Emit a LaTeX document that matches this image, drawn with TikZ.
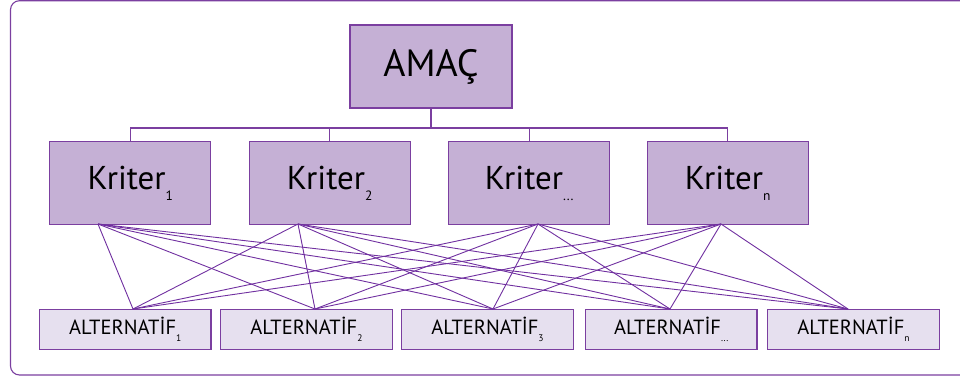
\documentclass[tikz,border=0pt]{standalone}
\usepackage{fontspec}
\setmainfont{PT Sans}
\definecolor{boxfill}{HTML}{C5B0D5}
\definecolor{altfill}{HTML}{E6E0EF}
\definecolor{edge}{HTML}{7B3FA0}
\definecolor{wire}{HTML}{7030A0}
\newcommand\lowsub[3]{\raisebox{-#2}{\fontsize{#1}{#1}\selectfont #3}}
\begin{document}
\begin{tikzpicture}[x=1pt,y=-1pt,
  topbox/.style={draw=edge,line width=1.2pt,fill=boxfill,rectangle,minimum width=162pt,minimum height=83pt,inner sep=0pt,font=\fontsize{38}{40}\selectfont},
  critbox/.style={draw=edge,line width=1.2pt,fill=boxfill,rectangle,minimum width=161pt,minimum height=82.5pt,inner sep=0pt,font=\fontsize{33}{36}\selectfont},
  altbox/.style={draw=edge,line width=1.1pt,fill=altfill,rectangle,minimum width=171.5pt,minimum height=39.7pt,inner sep=0pt,font=\fontsize{20.5}{22}\selectfont},
  wireline/.style={draw=wire,line width=0.9pt},
  treeline/.style={draw=edge,line width=1.1pt}]
\useasboundingbox (0,0) rectangle (960,378);
\clip (0,0) rectangle (960,378);
\draw[edge,line width=1.1pt,rounded corners=9pt] (1000,0.7) -- (10.5,0.7) -- (10.5,375) -- (1000,375);
% nodes
\node[topbox] (amac) at (431,66.5) {AMAÇ};
\node[critbox] (k1) at (130.3,183) {Kriter\lowsub{13.5}{11pt}{1}};
\node[critbox] (k2) at (329.7,183) {Kriter\lowsub{13.5}{11pt}{2}};
\node[critbox] (k3) at (529.2,183) {Kriter\lowsub{13.5}{11pt}{...}};
\node[critbox] (k4) at (727.7,183) {Kriter\lowsub{13.5}{11pt}{n}};
\node[altbox] (a1) at (125.2,329.2) {ALTERNATİF\lowsub{9.5}{7pt}{1}};
\node[altbox] (a2) at (306.4,329.2) {ALTERNATİF\lowsub{9.5}{7pt}{2}};
\node[altbox] (a3) at (487.5,329.2) {ALTERNATİF\lowsub{9.5}{7pt}{3}};
\node[altbox] (a4) at (671.2,329.2) {ALTERNATİF\lowsub{9.5}{7pt}{...}};
\node[altbox] (a5) at (853.5,329.2) {ALTERNATİF\lowsub{9.5}{7pt}{n}};
% tree
\coordinate (bus) at (0,128);
\draw[treeline] (amac.south) -- (amac.south |- bus);
\draw[treeline] (k1.north) |- (k4.north |- bus) -- (k4.north);
\draw[treeline] (k2.north) -- (k2.north |- bus);
\draw[treeline] (k3.north) -- (k3.north |- bus);
% fan points
\coordinate (kb1) at (98,224);
\coordinate (kb2) at (298,224);
\coordinate (kb3) at (538,224);
\coordinate (kb4) at (721,224);
\coordinate (at1) at (133,309);
\coordinate (at2) at (315,309);
\coordinate (at3) at (493,309);
\coordinate (at4) at (670,309);
\coordinate (at5) at (848,309);
\foreach \k in {kb1,kb2,kb3,kb4}{
  \foreach \a in {at1,at2,at3,at4,at5}{
    \draw[wireline] (\k) -- (\a);
  }
}
\end{tikzpicture}
\end{document}
